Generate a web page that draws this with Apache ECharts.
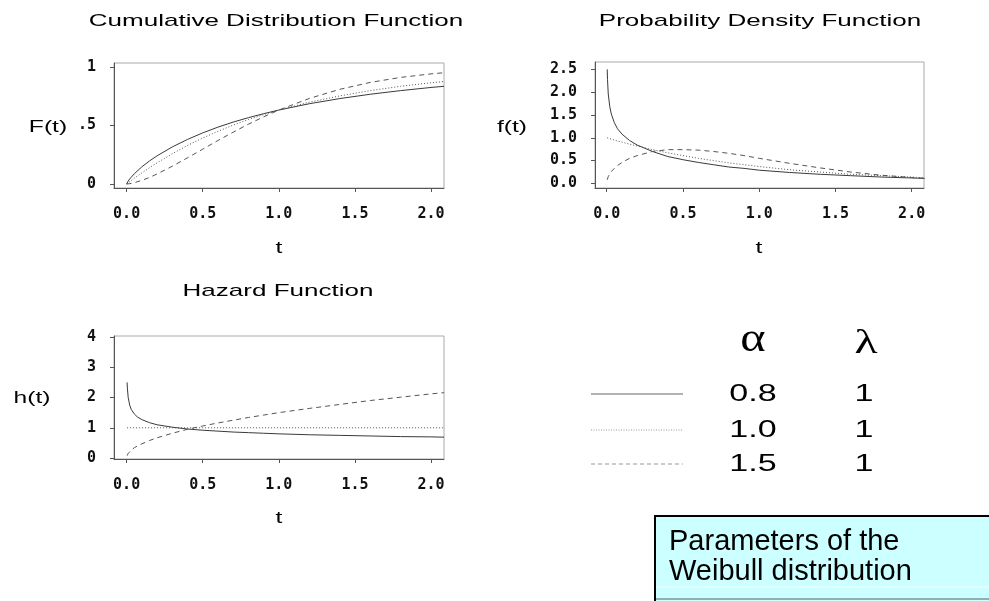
<!DOCTYPE html>
<html>
<head>
<meta charset="utf-8">
<script src="https://cdn.jsdelivr.net/npm/echarts@6/dist/echarts.min.js"></script>
<style>
html, body { margin: 0; padding: 0; background: #fff; }
#main { width: 989px; height: 601px; }
</style>
</head>
<body>
<div id="main"></div>
<script>
// values (lambda = 1)
var alphas = ['0.8', '1.0', '1.5'];
var lambdas = ['1', '1', '1'];

var tCdf = [0, 0.01, 0.02, 0.05, 0.1, 0.15, 0.2, 0.3, 0.4, 0.5, 0.6, 0.7, 0.8, 0.9, 1.0, 1.2, 1.4, 1.6, 1.8, 2.0, 2.085];
var cdf08 = [0, 0.025, 0.043, 0.087, 0.147, 0.197, 0.241, 0.317, 0.381, 0.437, 0.486, 0.529, 0.567, 0.601, 0.632, 0.686, 0.730, 0.767, 0.798, 0.825, 0.835];
var cdf10 = [0, 0.010, 0.020, 0.049, 0.095, 0.139, 0.181, 0.259, 0.330, 0.393, 0.451, 0.503, 0.551, 0.593, 0.632, 0.699, 0.753, 0.798, 0.835, 0.865, 0.876];
var cdf15 = [0, 0.001, 0.003, 0.011, 0.031, 0.056, 0.086, 0.152, 0.224, 0.298, 0.372, 0.443, 0.511, 0.574, 0.632, 0.731, 0.809, 0.868, 0.911, 0.941, 0.951];

var tPdf = [0.003, 0.005, 0.01, 0.02, 0.03, 0.05, 0.07, 0.1, 0.15, 0.2, 0.3, 0.4, 0.5, 0.6, 0.7, 0.8, 0.9, 1.0, 1.2, 1.4, 1.6, 1.8, 2.0, 2.085];
var pdf08 = [2.5, 2.28, 1.96, 1.68, 1.52, 1.33, 1.20, 1.08, 0.94, 0.84, 0.70, 0.59, 0.52, 0.46, 0.41, 0.36, 0.33, 0.29, 0.24, 0.20, 0.17, 0.14, 0.12, 0.11];
var pdf10 = [1.0, 0.995, 0.99, 0.98, 0.97, 0.95, 0.93, 0.905, 0.86, 0.82, 0.74, 0.67, 0.61, 0.55, 0.50, 0.45, 0.41, 0.37, 0.30, 0.25, 0.20, 0.17, 0.14, 0.12];
var pdf15 = [0.08, 0.11, 0.15, 0.21, 0.26, 0.33, 0.39, 0.46, 0.55, 0.61, 0.70, 0.74, 0.74, 0.73, 0.70, 0.66, 0.61, 0.55, 0.44, 0.34, 0.25, 0.18, 0.13, 0.11];

var tHaz = [0.003, 0.005, 0.01, 0.02, 0.03, 0.05, 0.07, 0.1, 0.15, 0.2, 0.3, 0.4, 0.5, 0.6, 0.7, 0.8, 0.9, 1.0, 1.2, 1.4, 1.6, 1.8, 2.0, 2.085];
var haz08 = [2.5, 2.31, 2.01, 1.75, 1.61, 1.46, 1.36, 1.27, 1.17, 1.10, 1.02, 0.96, 0.92, 0.89, 0.86, 0.84, 0.82, 0.80, 0.77, 0.75, 0.73, 0.71, 0.70, 0.69];
var haz10 = [1, 1, 1, 1, 1, 1, 1, 1, 1, 1, 1, 1, 1, 1, 1, 1, 1, 1, 1, 1, 1, 1, 1, 1];
var haz15 = [0.08, 0.11, 0.15, 0.21, 0.26, 0.34, 0.40, 0.47, 0.58, 0.67, 0.82, 0.95, 1.06, 1.16, 1.25, 1.34, 1.42, 1.50, 1.64, 1.77, 1.90, 2.01, 2.12, 2.16];

var xTicks = [0, 0.5, 1.0, 1.5, 2.0];
var yTicksCdf = [0, 0.5, 1];
var yTicksPdf = [0, 0.5, 1.0, 1.5, 2.0, 2.5];
var yTicksHaz = [0, 1, 2, 3, 4];

var chart = echarts.init(document.getElementById('main'));

function pairs(t, v) {
  return t.map(function (x, i) { return [x, v[i]]; });
}

var styles = [
  { color: '#3a3a3a', width: 1, type: 'solid' },
  { color: '#555', width: 1, type: [1, 2] },
  { color: '#555', width: 1, type: [5, 4] }
];

var panels = [
  { t: tCdf, ys: [cdf08, cdf10, cdf15] },
  { t: tPdf, ys: [pdf08, pdf10, pdf15] },
  { t: tHaz, ys: [haz08, haz10, haz15] }
];

var series = [];
panels.forEach(function (p, i) {
  p.ys.forEach(function (v, j) {
    series.push({
      type: 'line',
      xAxisIndex: i,
      yAxisIndex: i,
      data: pairs(p.t, v),
      showSymbol: false,
      smooth: false,
      silent: true,
      lineStyle: styles[j]
    });
  });
});

var tickFont = { fontFamily: 'DejaVu Sans Mono', fontSize: 15, fontWeight: 'bold', color: '#111' };

function xAxis(idx, min, max) {
  return {
    type: 'value', gridIndex: idx, min: min, max: max,
    axisLine: { show: true, onZero: false, lineStyle: { color: '#555' } },
    axisTick: { show: true, length: 4, customValues: xTicks, lineStyle: { color: '#555' } },
    axisLabel: Object.assign({ customValues: xTicks, margin: 19,
      formatter: function (v) { return v.toFixed(1); } }, tickFont),
    splitLine: { show: false }
  };
}

function yAxis(idx, min, max, ticks, fmt) {
  return {
    type: 'value', gridIndex: idx, min: min, max: max,
    axisLine: { show: true, onZero: false, lineStyle: { color: '#555' } },
    axisTick: { show: true, length: 4, customValues: ticks, lineStyle: { color: '#555' } },
    axisLabel: Object.assign({ customValues: ticks, margin: 18, formatter: fmt }, tickFont),
    splitLine: { show: false }
  };
}

function txt(s, x, y, size, sx, family, align) {
  return {
    type: 'text', x: x, y: y, scaleX: sx, silent: true,
    style: {
      text: s, font: size + 'px "' + (family || 'Liberation Sans') + '"', fill: '#000',
      align: align || 'center', verticalAlign: 'middle',
      textAlign: align || 'center', textVerticalAlign: 'middle'
    }
  };
}

function legendLine(y, dash) {
  return {
    type: 'line', silent: true,
    shape: { x1: 591, y1: y, x2: 683, y2: y },
    style: { stroke: '#999', lineWidth: dash ? 1 : 1.5, lineDash: dash || null }
  };
}

var rowsY = [394, 430, 464];
var graphics = [
  txt('Cumulative Distribution Function', 276, 21, 17, 1.53),
  txt('Probability Density Function', 760, 21, 17, 1.53),
  txt('Hazard Function', 278, 291, 17, 1.53),
  txt('F(t)', 48, 127, 17, 1.45),
  txt('f(t)', 512, 127, 17, 1.45),
  txt('h(t)', 32, 398, 17, 1.45),
  txt('t', 279, 248, 17, 1.45),
  txt('t', 759, 248, 17, 1.45),
  txt('t', 279, 518, 17, 1.45),
  txt('α', 753, 340, 42, 1.15, 'Liberation Serif'),
  txt('λ', 866, 344, 34, 1.4, 'Liberation Serif'),
  legendLine(rowsY[0], null),
  legendLine(rowsY[1], [1, 1.5]),
  legendLine(rowsY[2], [4, 3])
];
rowsY.forEach(function (y, i) {
  graphics.push(txt(alphas[i], 753, y, 24, 1.42));
  graphics.push(txt(lambdas[i], 864, y, 24, 1.42));
});
graphics.push({
  type: 'rect', silent: true,
  shape: { x: 655, y: 516, width: 345, height: 95 },
  style: { fill: '#ccffff', stroke: '#000', lineWidth: 2 }
});
graphics.push({
  type: 'line', silent: true,
  shape: { x1: 656, y1: 587, x2: 989, y2: 587 },
  style: { stroke: '#f2ffff', lineWidth: 1 }
});
graphics.push({
  type: 'line', silent: true,
  shape: { x1: 656, y1: 599, x2: 989, y2: 599 },
  style: { stroke: '#8fb0b0', lineWidth: 2 }
});
graphics.push(txt('Parameters of the', 669, 542, 29, 1, 'Liberation Sans', 'left'));
graphics.push(txt('Weibull distribution', 669, 572, 29, 1, 'Liberation Sans', 'left'));

chart.setOption({
  animation: false,
  backgroundColor: '#fff',
  grid: [
    { left: 114, top: 63, width: 330, height: 125, show: true, borderColor: '#aaa', borderWidth: 1 },
    { left: 595, top: 62, width: 329, height: 126, show: true, borderColor: '#aaa', borderWidth: 1 },
    { left: 114, top: 336, width: 330, height: 123, show: true, borderColor: '#aaa', borderWidth: 1 }
  ],
  xAxis: [
    xAxis(0, -0.083, 2.085),
    xAxis(1, -0.077, 2.081),
    xAxis(2, -0.083, 2.085)
  ],
  yAxis: [
    yAxis(0, -0.034, 1.034, yTicksCdf, function (v) { return v === 0.5 ? '.5' : String(v); }),
    yAxis(1, -0.1, 2.66, yTicksPdf, function (v) { return v.toFixed(1); }),
    yAxis(2, -0.03, 4.03, yTicksHaz, function (v) { return String(v); })
  ],
  series: series,
  graphic: graphics
});
</script>
</body>
</html>
